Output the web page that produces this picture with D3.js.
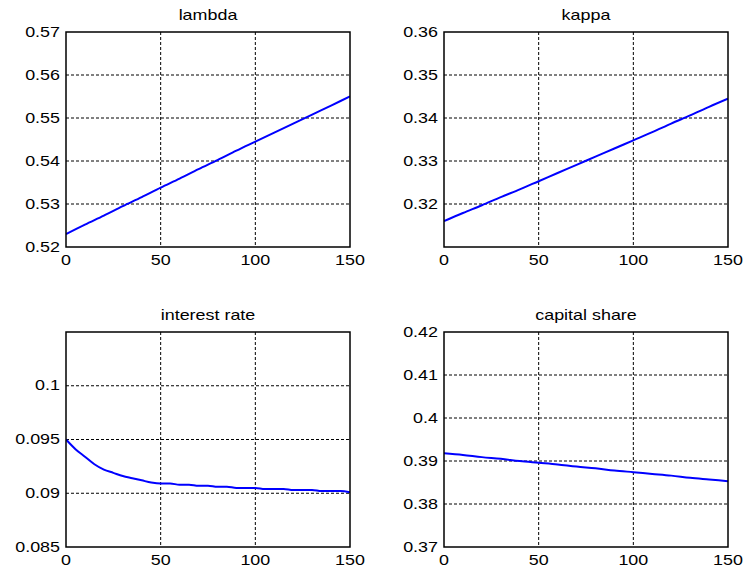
<!DOCTYPE html>
<html>
<head>
<meta charset="utf-8">
<script src="https://cdn.jsdelivr.net/npm/d3@7"></script>
<style>
  body { margin: 0; background: #fff; }
  svg { display: block; font-family: "Liberation Sans", Arial, sans-serif; }
  .grid line { stroke: #000; stroke-width: 1; stroke-dasharray: 3,2; }
  .tick-label { font-size: 14px; fill: #000; }
  .title { font-size: 14px; fill: #000; }
</style>
</head>
<body>
<div id="chart"></div>
<script>
const periods = [0, 10, 20, 30, 40, 50, 60, 70, 80, 90, 100, 110, 120, 130, 140, 150];
const periodsFine = [0, 5, 10, 15, 20, 25, 30, 35, 40, 45, 50, 55, 60, 65, 70, 75,
                     80, 85, 90, 95, 100, 105, 110, 115, 120, 125, 130, 135, 140, 145, 150];

const lambdaVals = [0.5230, 0.5252, 0.5273, 0.5295, 0.5316, 0.5338, 0.5359, 0.5381, 0.5402, 0.5424,
                    0.5445, 0.5466, 0.5487, 0.5508, 0.5529, 0.5550];
const kappa = [0.3160, 0.3179, 0.3197, 0.3216, 0.3234, 0.3253, 0.3272, 0.3291, 0.3310, 0.3329,
               0.3348, 0.3367, 0.3387, 0.3406, 0.3426, 0.3445];
const interestRate = [0.0950, 0.0941, 0.0934, 0.0927, 0.0922, 0.0919, 0.0916, 0.0914, 0.0912, 0.0910,
                      0.0909, 0.0909, 0.0908, 0.0908, 0.0907, 0.0907, 0.0906, 0.0906, 0.0905, 0.0905,
                      0.0905, 0.0904, 0.0904, 0.0904, 0.0903, 0.0903, 0.0903, 0.0902, 0.0902, 0.0902,
                      0.0901];
const capitalShare = [0.3918, 0.3914, 0.3909, 0.3905, 0.3900, 0.3896, 0.3892, 0.3887, 0.3883, 0.3878,
                      0.3874, 0.3870, 0.3866, 0.3861, 0.3857, 0.3853];

const xTicks = [0, 50, 100, 150];

const panels = [
  {title: "lambda", xs: periods, values: lambdaVals, domain: [0.52, 0.57],
   ticks: [0.52, 0.53, 0.54, 0.55, 0.56, 0.57], labels: ["0.52", "0.53", "0.54", "0.55", "0.56", "0.57"],
   left: 66, top: 32},
  {title: "kappa", xs: periods, values: kappa, domain: [0.31, 0.36],
   ticks: [0.32, 0.33, 0.34, 0.35, 0.36], labels: ["0.32", "0.33", "0.34", "0.35", "0.36"],
   left: 444, top: 32},
  {title: "interest rate", xs: periodsFine, values: interestRate, domain: [0.085, 0.105],
   ticks: [0.085, 0.09, 0.095, 0.1], labels: ["0.085", "0.09", "0.095", "0.1"],
   left: 66, top: 332},
  {title: "capital share", xs: periods, values: capitalShare, domain: [0.37, 0.42],
   ticks: [0.37, 0.38, 0.39, 0.4, 0.41, 0.42], labels: ["0.37", "0.38", "0.39", "0.4", "0.41", "0.42"],
   left: 444, top: 332}
];

const W = 748, H = 574;
const pw = 284, ph = 215;
const stretch = 1.28; // the original text is wider than normal

const svg = d3.select("#chart").append("svg")
    .attr("width", W)
    .attr("height", H);

// text drawn inside a stretched group
function label(parent, x, y, txt, anchor, cls) {
    parent.append("g")
        .attr("transform", `translate(${x}, ${y}) scale(${stretch}, 1)`)
        .append("text")
        .attr("class", cls)
        .attr("text-anchor", anchor)
        .text(txt);
}

panels.forEach((p, i) => {
    const g = svg.append("g")
        .attr("transform", `translate(${p.left}, ${p.top})`);

    const x = d3.scaleLinear().domain([0, 150]).range([0, pw]);
    const y = d3.scaleLinear().domain(p.domain).range([ph, 0]);

    // grid
    const grid = g.append("g").attr("class", "grid");
    grid.selectAll(".vg").data(xTicks.slice(1, -1)).join("line")
        .attr("x1", d => x(d)).attr("x2", d => x(d))
        .attr("y1", 0).attr("y2", ph);
    grid.selectAll(".hg").data(p.ticks.filter(t => y(t) > 1 && y(t) < ph - 1)).join("line")
        .attr("x1", 0).attr("x2", pw)
        .attr("y1", d => y(d)).attr("y2", d => y(d));

    // line
    g.append("clipPath").attr("id", "clip" + i)
        .append("rect").attr("width", pw).attr("height", ph);
    const line = d3.line()
        .curve(d3.curveMonotoneX)
        .x((d, k) => x(p.xs[k]))
        .y(d => y(d));
    g.append("path")
        .datum(p.values)
        .attr("clip-path", `url(#clip${i})`)
        .attr("fill", "none")
        .attr("stroke", "#0000ff")
        .attr("stroke-width", 2)
        .attr("d", line);

    // box
    g.append("rect")
        .attr("width", pw).attr("height", ph)
        .attr("fill", "none")
        .attr("stroke", "#000")
        .attr("stroke-width", 1.5);

    // tick labels
    xTicks.forEach(t => label(g, x(t), ph + 18, t, "middle", "tick-label"));
    p.ticks.forEach((t, k) => label(g, -6, y(t) + 4.5, p.labels[k], "end", "tick-label"));

    // title
    label(g, pw / 2, -12, p.title, "middle", "title");
});
</script>
</body>
</html>
